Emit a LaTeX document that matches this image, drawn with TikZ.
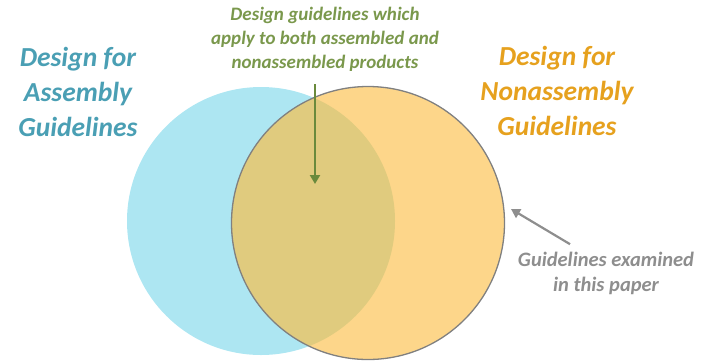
\documentclass[tikz,border=0pt]{standalone}
\usepackage{fontspec}
\setmainfont{Carlito}
\usepackage{tikz}

\definecolor{asmblue}{HTML}{ADE6F2}
\definecolor{nonorange}{HTML}{FDD68A}
\definecolor{bothtan}{HTML}{E0CB7E}
\definecolor{tealtext}{HTML}{4A9FB4}
\definecolor{orangetext}{HTML}{E6A11E}
\definecolor{greentext}{HTML}{7A984C}
\definecolor{greenline}{HTML}{6A8A3C}
\definecolor{graytext}{HTML}{8E8E8E}

\tikzset{
  bigtitle/.style={align=center, font=\fontsize{27.5}{35}\selectfont\bfseries\itshape},
  smalltitle/.style={align=center, font=\fontsize{19}{24}\selectfont\bfseries\itshape},
  pointer/.style={line width=2.2pt, -{Triangle[length=9pt,width=10pt]}}
}
\usetikzlibrary{arrows.meta}

\begin{document}
\begin{tikzpicture}[x=1pt,y=-1pt]
            \useasboundingbox (0,0) rectangle (715,360);

            % the two sets
            \fill[asmblue] (261,221) circle (134);
            \fill[nonorange] (368,223) circle (136.5);
            \begin{scope}
                \clip (261,221) circle (134);
                \fill[bothtan] (368,223) circle (136.5);
            \end{scope}
            \draw[gray, line width=1.3pt] (368,223) circle (136.5);

            % labels
            \node[bigtitle, text=tealtext] (asm) at (78,92) {Design for\\Assembly\\Guidelines};
            \node[bigtitle, text=orangetext] (nonasm) at (557,91) {Design for\\Nonassembly\\Guidelines};
            \node[smalltitle, text=greentext] (both) at (325,39) {Design guidelines which\\apply to both assembled and\\nonassembled products};
            \node[smalltitle, text=graytext, font=\fontsize{20.5}{25}\selectfont\bfseries\itshape] (paper) at (606,273) {Guidelines examined\\in this paper};

            % pointers
            \coordinate (bothtip) at (315,184);
            \coordinate (papertip) at (511,209);
            \draw[pointer, greenline] (315,84) -- (bothtip);
            \draw[pointer, graytext] (paper.north) ++(-36,-4) -- (papertip);
        \end{tikzpicture}
\end{document}
